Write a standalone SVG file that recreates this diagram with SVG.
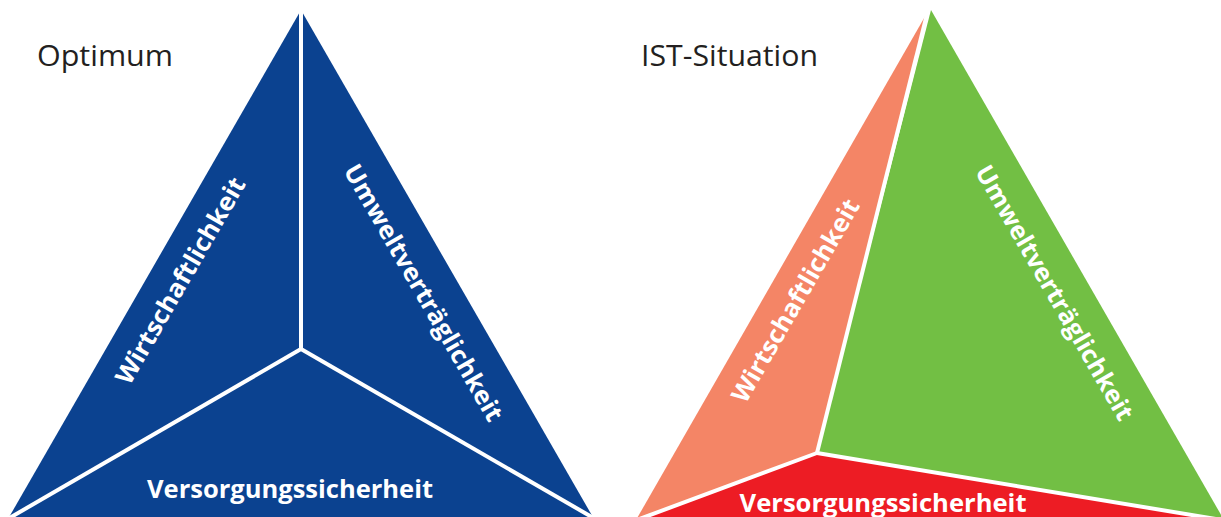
<svg xmlns="http://www.w3.org/2000/svg" width="1221" height="517" viewBox="0 0 1221 517">
<style>
.lbl{font-family:"Open Sans","Noto Sans","Liberation Sans",sans-serif;font-weight:700;font-size:25px;fill:#ffffff;text-anchor:middle}
.ttl{font-family:"Open Sans","Noto Sans","Liberation Sans",sans-serif;font-size:30px;fill:#231f20}
.div{stroke:#ffffff;stroke-width:4;fill:none;stroke-linecap:butt}
</style>
<rect width="1221" height="517" fill="#ffffff"/>
<g id="title-optimum"><text class="ttl" x="37" y="66" textLength="136" lengthAdjust="spacingAndGlyphs">Optimum</text></g>
<g id="title-ist"><text class="ttl" x="641" y="66" textLength="177" lengthAdjust="spacingAndGlyphs">IST-Situation</text></g>

<g id="optimum-triangle">
<polygon points="301,10 8,519 594,519" fill="#0b4290"/>
</g>
<g id="opt-wirtschaft"><text class="lbl" transform="translate(188,285) rotate(-60)" textLength="234" lengthAdjust="spacingAndGlyphs">Wirtschaftlichkeit</text></g>
<g id="opt-umwelt"><text class="lbl" transform="translate(416,297) rotate(60)" textLength="292" lengthAdjust="spacingAndGlyphs">Umweltverträglichkeit</text></g>
<g id="opt-versorgung"><text class="lbl" x="290" y="498" textLength="286" lengthAdjust="spacingAndGlyphs">Versorgungssicherheit</text></g>

<g id="ist-wirtschaft-area"><polygon points="927,13 636,520 817,453" fill="#f48566"/></g>
<g id="ist-umwelt-area"><polygon points="931,10 1224,520 817,453" fill="#72bf44"/></g>
<g id="ist-versorgung-area"><polygon points="636,520 817,453 1224,520" fill="#ed1c24"/></g>
<g id="ist-wirtschaft"><text class="lbl" transform="translate(803,305) rotate(-60)" textLength="230" lengthAdjust="spacingAndGlyphs">Wirtschaftlichkeit</text></g>
<g id="ist-umwelt"><text class="lbl" transform="translate(1047,297) rotate(60)" textLength="290" lengthAdjust="spacingAndGlyphs">Umweltverträglichkeit</text></g>
<g id="ist-versorgung"><text class="lbl" x="883" y="512" textLength="287" lengthAdjust="spacingAndGlyphs">Versorgungssicherheit</text></g>

<g id="connectors">
<line class="div" x1="301" y1="349" x2="301" y2="0"/>
<line class="div" x1="301" y1="349" x2="6" y2="520"/>
<line class="div" x1="301" y1="349" x2="597" y2="520"/>
<line class="div" x1="817" y1="453" x2="929" y2="6"/>
<line class="div" x1="817" y1="453" x2="634" y2="521"/>
<line class="div" x1="817" y1="453" x2="1228" y2="521"/>
</g>
</svg>
